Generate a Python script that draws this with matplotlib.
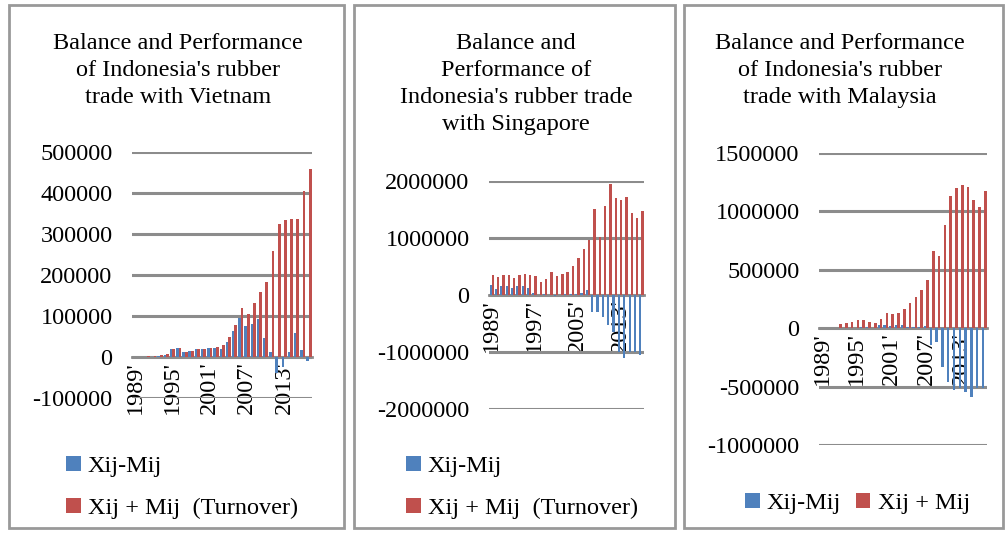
import matplotlib.pyplot as plt
import numpy as np
from matplotlib.patches import Rectangle

plt.rcParams['font.family'] = ['Liberation Serif', 'DejaVu Serif']

years = list(range(1989, 2018))
year_labels = ["%d'" % y for y in years]

vn_balance = [500, 500, 800, 1000, 2000, 5000, 19000, 23000, 12000, 14000, 19000, 20000, 21000, 23000,
              20000, 37000, 63000, 96000, 76000, 81000, 93000, 47000, 11000, -40000, -24000, 11000,
              59000, 18000, -10000]
vn_turnover = [1000, 1000, 2000, 2000, 4000, 8000, 20000, 23000, 12000, 15000, 20000, 20000, 22000,
               25000, 30000, 49000, 79000, 120000, 106000, 132000, 158000, 184000, 258000, 324000,
               333000, 337000, 337000, 406000, 459000]

sg_balance = [170000, 100000, 150000, 160000, 120000, 150000, 150000, 120000, 30000, 0, 10000, 0,
              -10000, 0, 10000, 20000, 20000, 30000, 90000, -300000, -300000, -380000, -530000,
              -650000, -1000000, -1100000, -1000000, -1000000, -1050000]
sg_turnover = [350000, 320000, 350000, 350000, 300000, 350000, 370000, 350000, 330000, 230000, 280000,
               410000, 330000, 360000, 400000, 510000, 650000, 810000, 960000, 1510000, 1020000,
               1570000, 1950000, 1700000, 1670000, 1720000, 1440000, 1350000, 1480000]

my_balance = [1000, 1000, 2000, 3000, 4000, 5000, 5000, 6000, 8000, 5000, 25000, 30000, 20000, 25000,
              28000, 12000, 10000, 12000, 15000, -143000, -114000, -329000, -457000, -529000,
              -514000, -543000, -586000, -514000, -514000]
my_turnover = [3000, 5000, 5000, 34000, 43000, 51000, 66000, 66000, 51000, 46000, 77000, 134000,
               120000, 134000, 166000, 214000, 271000, 323000, 409000, 657000, 614000, 886000,
               1129000, 1200000, 1229000, 1209000, 1094000, 1034000, 1177000]

BLUE = '#4f81bd'
RED = '#c0504d'
GRID = '#8c8c8c'
FS = 17.5
W, H = 1008, 533

fig = plt.figure(figsize=(W / 100, H / 100), dpi=100)

# panel frames
for x0, x1 in [(9, 344), (354, 675), (684, 1003)]:
    fig.patches.append(Rectangle((x0 / W, 5 / H), (x1 - x0) / W, (H - 10) / H, transform=fig.transFigure,
                                 fill=False, edgecolor='#999999', lw=2))


def panel(x0, x1, ytop, ybot, balance, turnover, ylim, step, tick_every, title, tcx):
    ax = fig.add_axes([x0 / W, 1 - ybot / H, (x1 - x0) / W, (ybot - ytop) / H])
    x = np.arange(len(years))
    b1 = ax.bar(x - 0.2, balance, width=0.4, color=BLUE, zorder=3)
    b2 = ax.bar(x + 0.22, turnover, width=0.45, color=RED, zorder=3)
    ax.set_xlim(-0.5, len(years) - 0.5)
    ax.set_ylim(*ylim)
    ax.spines['bottom'].set_position(('data', 0))
    ax.spines['bottom'].set_color(GRID)
    ax.spines['bottom'].set_linewidth(2)
    for s in ['top', 'right', 'left']:
        ax.spines[s].set_visible(False)
    ax.set_yticks(np.arange(ylim[0], ylim[1] + 1, step))
    ax.yaxis.set_major_formatter(plt.FuncFormatter(lambda v, p: '%d' % v))
    ax.grid(axis='y', color=GRID, lw=2.2, zorder=0)
    ax.set_xticks(x[::tick_every])
    ax.set_xticklabels(year_labels[::tick_every])
    ax.tick_params(axis='both', length=0, labelsize=FS)
    ax.tick_params(axis='x', labelrotation=90, pad=3)
    ax.tick_params(axis='y', pad=14)
    fig.text(tcx / W, 1 - 33 / H, title, ha='center', va='top', fontsize=FS, linespacing=1.38)
    return b1, b2


h1 = panel(132, 312, 152, 398, vn_balance, vn_turnover, (-100000, 500000), 100000, 6,
           "Balance and Performance\nof Indonesia's rubber\ntrade with Vietnam", 178)
h2 = panel(489, 644, 181, 409, sg_balance, sg_turnover, (-2000000, 2000000), 1000000, 8,
           "Balance and\nPerformance of\nIndonesia's rubber trade\nwith Singapore", 516)
h3 = panel(819, 987, 153, 445, my_balance, my_turnover, (-1000000, 1500000), 500000, 6,
           "Balance and Performance\nof Indonesia's rubber\ntrade with Malaysia", 840)

legend_kw = dict(frameon=False, fontsize=FS, handlelength=0.6, handleheight=0.6, handletextpad=0.3,
                 borderaxespad=0, borderpad=0)
fig.legend(h1, ['Xij-Mij', 'Xij + Mij  (Turnover)'], loc='upper left',
           bbox_to_anchor=(66 / W, 1 - 456 / H), labelspacing=0.85, **legend_kw)
fig.legend(h2, ['Xij-Mij', 'Xij + Mij  (Turnover)'], loc='upper left',
           bbox_to_anchor=(406 / W, 1 - 456 / H), labelspacing=0.85, **legend_kw)
fig.legend(h3, ['Xij-Mij', 'Xij + Mij'], loc='upper left', ncol=2, columnspacing=0.6,
           bbox_to_anchor=(745 / W, 1 - 493 / H), **legend_kw)

fig.savefig('out.png', dpi=100)
